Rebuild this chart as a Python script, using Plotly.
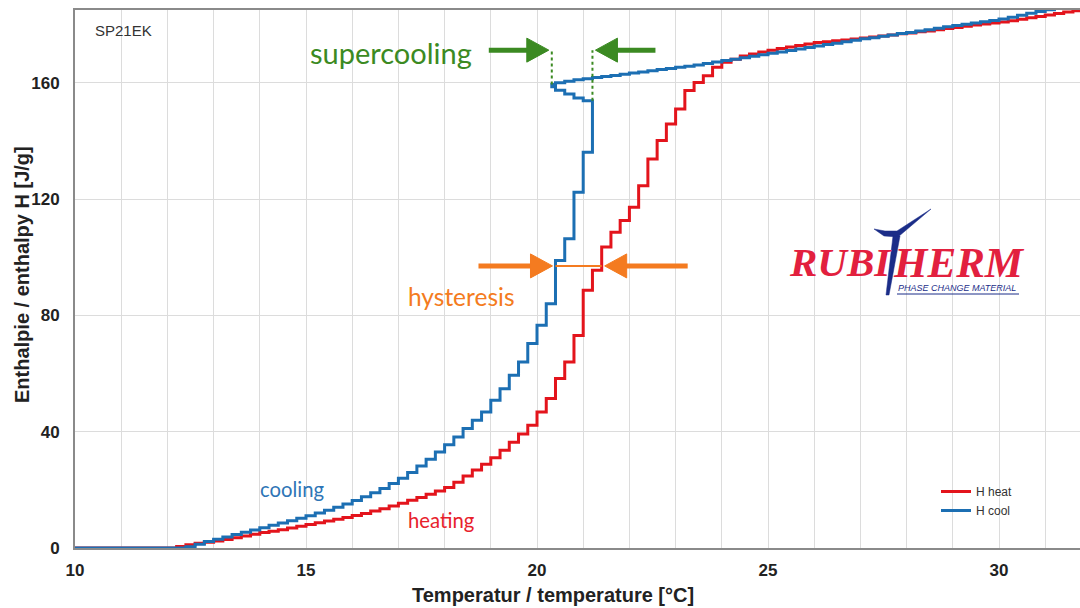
import plotly.graph_objects as go

# ---------------- data ----------------
heat_T = [10.0, 10.2, 10.4, 10.6, 10.8, 11.0, 11.2, 11.4, 11.6, 11.8,
          12.0, 12.2, 12.4, 12.6, 12.8, 13.0, 13.2, 13.4, 13.6, 13.8,
          14.0, 14.2, 14.4, 14.6, 14.8, 15.0, 15.2, 15.4, 15.6, 15.8,
          16.0, 16.2, 16.4, 16.6, 16.8, 17.0, 17.2, 17.4, 17.6, 17.8,
          18.0, 18.2, 18.4, 18.6, 18.8, 19.0, 19.2, 19.4, 19.6, 19.8,
          20.0, 20.2, 20.4, 20.6, 20.8, 21.0, 21.2, 21.4, 21.6, 21.8,
          22.0, 22.2, 22.4, 22.6, 22.8, 23.0, 23.2, 23.4, 23.6, 23.8,
          24.0, 24.2, 24.4, 24.6, 24.8, 25.0, 25.2, 25.4, 25.6, 25.8,
          26.0, 26.2, 26.4, 26.6, 26.8, 27.0, 27.2, 27.4, 27.6, 27.8,
          28.0, 28.2, 28.4, 28.6, 28.8, 29.0, 29.2, 29.4, 29.6, 29.8,
          30.0, 30.2, 30.4, 30.6, 30.8, 31.0, 31.2, 31.4, 31.6, 31.8]
heat_H = [0, 0, 0, 0, 0, 0, 0, 0, 0, 0,
          0.0, 0.5, 1.1, 1.6, 2.0, 2.4, 2.9, 3.5, 4.1, 4.7,
          5.3, 5.8, 6.3, 6.9, 7.5, 8.1, 8.7, 9.3, 9.9, 10.5,
          11.2, 11.9, 12.7, 13.5, 14.4, 15.4, 16.4, 17.4, 18.5, 19.6,
          20.8, 22.6, 24.8, 26.8, 28.8, 31.0, 33.6, 36.4, 39.2, 42.2,
          46.8, 51.4, 58.3, 64.0, 73.1, 88.6, 95.5, 103.5, 108.6, 112.6,
          117.2, 124.6, 133.8, 140.1, 145.8, 151.0, 157.3, 160.1, 162.4, 165.3,
          167.0, 168.1, 169.2, 169.9, 170.6, 171.2, 171.8, 172.3, 172.8, 173.3,
          173.8, 174.1, 174.4, 174.7, 175.0, 175.4, 175.7, 176.1, 176.4, 176.8,
          177.1, 177.5, 177.8, 178.2, 178.6, 179.0, 179.4, 179.8, 180.2, 180.5,
          180.9, 181.3, 181.8, 182.3, 182.8, 183.3, 183.8, 184.3, 184.7, 185.1]

# cooling run, in measurement order (temperature falling, with the supercooling loop)
cool_T = [31.8, 31.6, 31.4, 31.2, 31.0, 30.8, 30.6, 30.4, 30.2, 30.0,
          29.8, 29.6, 29.4, 29.2, 29.0, 28.8, 28.6, 28.4, 28.2, 28.0,
          27.8, 27.6, 27.4, 27.2, 27.0, 26.8, 26.6, 26.4, 26.2, 26.0,
          25.8, 25.6, 25.4, 25.2, 25.0, 24.8, 24.6, 24.4, 24.2, 24.0,
          23.8, 23.6, 23.4, 23.2, 23.0, 22.8, 22.6, 22.4, 22.2, 22.0,
          21.8, 21.6, 21.4, 21.2, 21.0, 20.8, 20.6, 20.4, 20.32,
          20.4, 20.6, 20.8, 21.0, 21.2,
          21.0, 20.8, 20.6, 20.4, 20.2, 20.0, 19.8, 19.6, 19.4, 19.2,
          19.0, 18.8, 18.6, 18.4, 18.2, 18.0, 17.8, 17.6, 17.4, 17.2,
          17.0, 16.8, 16.6, 16.4, 16.2, 16.0, 15.8, 15.6, 15.4, 15.2,
          15.0, 14.8, 14.6, 14.4, 14.2, 14.0, 13.8, 13.6, 13.4, 13.2,
          13.0, 12.8, 12.6, 12.4, 12.2, 12.0, 11.8, 11.6, 11.4, 11.2,
          11.0, 10.8, 10.6, 10.4, 10.2, 10.0]
cool_H = [187.0, 186.6, 186.1, 185.6, 185.1, 184.5, 183.9, 183.2, 182.5, 181.9,
          181.4, 181.0, 180.5, 180.1, 179.7, 179.2, 178.7, 178.2, 177.8, 177.3,
          176.9, 176.4, 176.0, 175.5, 175.1, 174.6, 174.1, 173.6, 173.1, 172.6,
          172.1, 171.6, 171.1, 170.6, 170.1, 169.6, 169.1, 168.6, 168.1, 167.6,
          167.1, 166.6, 166.1, 165.7, 165.3, 164.9, 164.5, 164.1, 163.7, 163.3,
          162.9, 162.5, 162.1, 161.8, 161.4, 161.0, 160.5, 160.0, 159.4,
          158.6, 157.4, 156.1, 154.7, 153.8,
          136.1, 122.3, 106.3, 98.9, 84.0, 76.6, 70.3, 64.0, 59.4, 54.8,
          50.8, 46.8, 43.9, 41.1, 38.2, 35.5, 33.0, 30.5, 28.2, 26.0,
          24.0, 22.2, 20.5, 19.0, 17.6, 16.3, 15.1, 14.0, 13.0, 12.0,
          11.1, 10.2, 9.4, 8.6, 7.8, 7.0, 6.2, 5.4, 4.6, 3.8,
          3.0, 2.2, 1.3, 0.4, 0, 0, 0, 0, 0, 0,
          0, 0, 0, 0, 0, 0]

x_ticks = [10, 15, 20, 25, 30]
y_ticks = [0, 40, 80, 120, 160]
series_names = ["H heat", "H cool"]
sample_name = "SP21EK"
x_title = "Temperatur / temperature [°C]"
y_title = "Enthalpie / enthalpy H [J/g]"
hyst_level = 97.0        # J/g, level of the hysteresis arrows
super_level = 171.2      # J/g, level of the supercooling arrows

# ---------------- layout geometry ----------------
W, H = 1080, 608
ML, MR, MT, MB = 75, 0, 10, 60
X_RANGE = [10, 31.753]
Y_RANGE = [0, 185]
PW, PH = W - ML - MR, H - MT - MB

RED = "#e3141c"
BLUE = "#1c6fb3"
GREEN = "#3b8a22"
ORANGE = "#f47b20"
GRID = "#dcdcdc"
AXLINE = "#8a8a8a"


def t2px(t):
    return ML + (t - X_RANGE[0]) / (X_RANGE[1] - X_RANGE[0]) * PW


def h2py(h):
    return MT + PH - (h - Y_RANGE[0]) / (Y_RANGE[1] - Y_RANGE[0]) * PH


def pxp(px):
    return (px - ML) / PW


def pyp(py):
    return (MT + PH - py) / PH


fig = go.Figure()
fig.add_trace(go.Scatter(x=heat_T, y=heat_H, mode="lines", name=series_names[0],
                         line=dict(color=RED, width=3, shape="hv")))
fig.add_trace(go.Scatter(x=cool_T, y=cool_H, mode="lines", name=series_names[1],
                         line=dict(color=BLUE, width=3, shape="vh")))

shapes = []
annotations = []

# ---- supercooling markers derived from the cooling data ----
# turning point of the loop: first local minimum of temperature along the run
loop_start = next(i for i in range(1, len(cool_T) - 1)
                  if cool_T[i] < cool_T[i - 1] and cool_T[i] < cool_T[i + 1])
t_min = cool_T[loop_start]
h_min = cool_H[loop_start]
# the crystallisation drop after the loop: largest step down
drops = [cool_H[i] - cool_H[i + 1] for i in range(len(cool_H) - 1)]
i_drop = drops.index(max(drops))
t_drop = cool_T[i_drop]
h_drop = cool_H[i_drop]

for (tx, hy0) in [(t_min, h_min), (t_drop, h_drop)]:
    shapes.append(dict(type="line", xref="x", yref="y", x0=tx, x1=tx, y0=hy0, y1=super_level,
                       line=dict(color=GREEN, width=2, dash="dot"), layer="above"))


def arrow(tip_px, y_px, direction, shaft_len, color, head_len=22, head_half=12, width=5):
    """direction +1: pointing right, -1: pointing left"""
    base = tip_px - direction * head_len
    tail = base - direction * shaft_len
    shapes.append(dict(type="line", xref="paper", yref="paper",
                       x0=pxp(tail), x1=pxp(base + direction * 2), y0=pyp(y_px), y1=pyp(y_px),
                       line=dict(color=color, width=width), layer="above"))
    path = "M {:.5f},{:.5f} L {:.5f},{:.5f} L {:.5f},{:.5f} Z".format(
        pxp(tip_px), pyp(y_px), pxp(base), pyp(y_px - head_half), pxp(base), pyp(y_px + head_half))
    shapes.append(dict(type="path", xref="paper", yref="paper", path=path,
                       fillcolor=color, line=dict(color=color, width=1), layer="above"))


sy = h2py(super_level)
arrow(t2px(t_min) - 3, sy, +1, 38, GREEN)
arrow(t2px(t_drop) + 3, sy, -1, 38, GREEN)


# ---- hysteresis markers derived from the data ----
def first_cross(ts, hs, level):
    for t, h in zip(ts, hs):
        if h >= level:
            return t
    return None


lower_cool_T = cool_T[i_drop + 1:][::-1]
lower_cool_H = cool_H[i_drop + 1:][::-1]
t_cool_edge = first_cross(lower_cool_T, lower_cool_H, hyst_level)
t_heat_edge = first_cross(heat_T, heat_H, hyst_level)
hy = h2py(hyst_level)
shapes.append(dict(type="line", xref="x", yref="y", x0=t_cool_edge, x1=t_heat_edge,
                   y0=hyst_level, y1=hyst_level, line=dict(color=ORANGE, width=2), layer="above"))
arrow(t2px(t_cool_edge) - 3, hy, +1, 52, ORANGE)
arrow(t2px(t_heat_edge) + 3, hy, -1, 61, ORANGE)

# ---- logo ----
shapes.append(dict(type="rect", xref="paper", yref="paper", x0=pxp(787), x1=pxp(1030),
                   y0=pyp(300), y1=pyp(205), fillcolor="white", line=dict(width=0), layer="between"))
swoosh = [(874, 229), (884, 236), (898, 237), (931, 209), (897, 231), (885, 231)]
stem = [(893, 236), (900, 236), (889, 295), (886, 295)]
for poly in (swoosh, stem):
    p = "M " + " L ".join("{:.5f},{:.5f}".format(pxp(a), pyp(b)) for a, b in poly) + " Z"
    shapes.append(dict(type="path", xref="paper", yref="paper", path=p,
                       fillcolor="#1b2d88", line=dict(color="#1b2d88", width=0.5), layer="above"))
shapes.append(dict(type="line", xref="paper", yref="paper", x0=pxp(897), x1=pxp(1019),
                   y0=pyp(294), y1=pyp(294), line=dict(color="#1b2d88", width=1), layer="above"))

logo_font = dict(family="Liberation Serif", size=41, color="#e2203e", weight="bold", style="italic")
annotations.append(dict(text="RUBI", xref="paper", yref="paper", x=pxp(840), y=pyp(262),
                        showarrow=False, font=logo_font, xanchor="center", yanchor="middle"))
annotations.append(dict(text="HERM", xref="paper", yref="paper", x=pxp(959), y=pyp(262),
                        showarrow=False, font=dict(logo_font, size=43), xanchor="center", yanchor="middle"))
annotations.append(dict(text="PHASE CHANGE MATERIAL", xref="paper", yref="paper", x=pxp(957), y=pyp(288),
                        showarrow=False, xanchor="center", yanchor="middle",
                        font=dict(family="Liberation Sans", size=9, color="#1b2d88", style="italic")))


# ---- text labels ----
def label(text, cx, cy, color, size, family="Lato"):
    annotations.append(dict(text=text, xref="paper", yref="paper", x=pxp(cx), y=pyp(cy),
                            showarrow=False, xanchor="center", yanchor="middle",
                            font=dict(family=family, size=size, color=color)))


label("supercooling", 391, 53, GREEN, 29)
label("hysteresis", 461, 296, ORANGE, 24.5)
label("cooling", 292, 489, "#2e75b6", 20.3)
label("heating", 441, 520, "#e8212b", 20.3)
annotations.append(dict(text=sample_name, xref="paper", yref="paper", x=pxp(93), y=pyp(31),
                        showarrow=False, xanchor="left", yanchor="middle",
                        font=dict(family="Liberation Sans", size=15, color="#333333")))

# axis titles
annotations.append(dict(text=x_title, xref="paper", yref="paper", x=pxp(553), y=pyp(595),
                        showarrow=False, xanchor="center", yanchor="middle",
                        font=dict(family="Liberation Sans", size=20, color="#222222", weight="bold")))
annotations.append(dict(text=y_title, xref="paper", yref="paper", x=pxp(22), y=pyp(275),
                        showarrow=False, xanchor="center", yanchor="middle", textangle=-90,
                        font=dict(family="Liberation Sans", size=20, color="#222222", weight="bold")))

tickfont = dict(family="Liberation Sans", size=17, color="#222222", weight="bold")
fig.update_layout(
    width=W, height=H,
    margin=dict(l=ML, r=MR, t=MT, b=MB, pad=0),
    paper_bgcolor="white", plot_bgcolor="white",
    shapes=shapes, annotations=annotations,
    showlegend=True,
    legend=dict(x=pxp(936), y=pyp(477), xanchor="left", yanchor="top",
                font=dict(family="Liberation Sans", size=12, color="#333333"),
                bgcolor="rgba(0,0,0,0)", itemwidth=30, tracegroupgap=0),
    xaxis=dict(range=X_RANGE, tickvals=x_ticks, ticktext=[str(v) for v in x_ticks],
               showgrid=True, gridcolor=GRID, gridwidth=1,
               minor=dict(dtick=1, tick0=10, showgrid=True, gridcolor=GRID, gridwidth=1),
               showline=True, linecolor=AXLINE, linewidth=2, mirror=True,
               ticks="", tickfont=tickfont, ticklabelstandoff=6, zeroline=False, fixedrange=True),
    yaxis=dict(range=Y_RANGE, tickvals=y_ticks, ticktext=[str(v) for v in y_ticks],
               showgrid=True, gridcolor=GRID, gridwidth=1,
               showline=True, linecolor=AXLINE, linewidth=2, mirror=False,
               ticks="", tickfont=tickfont, ticklabelstandoff=10, zeroline=False, fixedrange=True),
)

fig.write_html("out.html", config={"displayModeBar": False},
               post_script="document.body.style.margin='0px';")
